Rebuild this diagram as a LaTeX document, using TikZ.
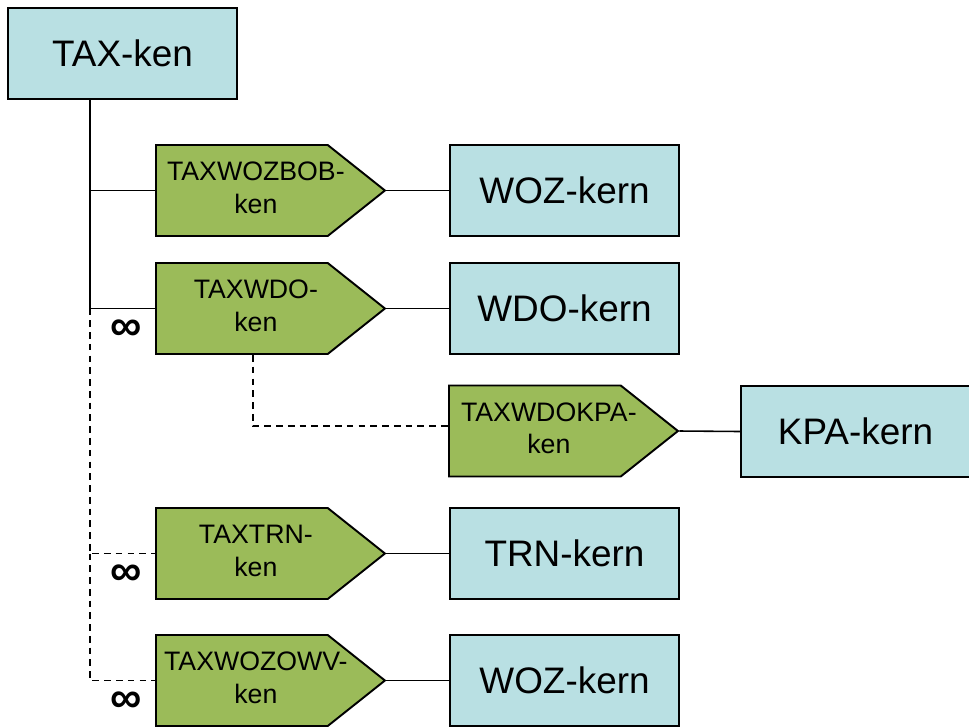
\documentclass[tikz,border=0pt]{standalone}
\usepackage{fontspec}
\setmainfont{Liberation Sans}
\usepackage{xcolor}
\usepackage{tikz}
\usetikzlibrary{shapes.symbols}
\definecolor{kernfill}{HTML}{B9E0E3}
\definecolor{kenfill}{HTML}{9BBB59}
\newcommand{\kenlabel}[2]{\makebox[3cm]{\hspace*{0.56cm}\raisebox{-0.15cm}{\begin{tabular}{@{}c@{}}#1\\#2\end{tabular}}}}
\tikzset{
  kern/.style={draw, fill=kernfill, line width=1.1pt, minimum width=4.58cm, minimum height=1.82cm, inner sep=0pt, font=\fontsize{21}{24}\selectfont},
  ken/.style={draw, fill=kenfill, line width=1.1pt, shape=signal, signal to=east, signal pointer angle=77, minimum width=4.58cm, minimum height=1.82cm, inner sep=0pt, font=\fontsize{15.2}{18.6}\selectfont},
  link/.style={line width=0.9pt},
  optional/.style={link, dash pattern=on 3.8pt off 2.9pt},
  many/.style={font=\bfseries\fontsize{25}{25}\selectfont, inner sep=0pt},
}

\begin{document}
\begin{tikzpicture}[x=0.02cm, y=-0.02cm]
  \useasboundingbox (0,0) rectangle (969,727);
  \coordinate (bus) at (90,0);
  \coordinate (drop) at (253,0);

  \node[kern] (tax) at (122.5,53.5) {TAX-ken};

  \node[ken, anchor=west] (wozbob) at (155,190.5) {\kenlabel{TAXWOZBOB-}{ken}};
  \node[ken, anchor=west] (wdo) at (155,308.5) {\kenlabel{TAXWDO-}{ken}};
  \node[ken, anchor=west] (wdokpa) at (448,431) {\kenlabel{TAXWDOKPA-}{ken}};
  \node[ken, anchor=west] (trn) at (155,553.5) {\kenlabel{TAXTRN-}{ken}};
  \node[ken, anchor=west] (wozowv) at (155,680.5) {\kenlabel{TAXWOZOWV-}{ken}};

  \node[kern] (woz) at (564.5,190.5) {WOZ-kern};
  \node[kern] (wdok) at (564.5,308.5) {WDO-kern};
  \node[kern] (kpa) at (855.5,431.5) {KPA-kern};
  \node[kern] (trnk) at (564.5,553.5) {TRN-kern};
  \node[kern] (wozk) at (564.5,680.5) {WOZ-kern};

  % trunk
  \draw[link] (tax.south -| bus) |- (wozbob.west);
  \draw[link] (tax.south -| bus) |- (wdo.west);
  \draw[optional] (wdo.west -| bus) |- (trn.west);
  \draw[optional] (trn.west -| bus) |- (wozowv.west);
  \draw[optional] (wdo.south -| drop) |- ([yshift=0.1cm]wdokpa.west);

  \draw[link] (wozbob.east) -- (woz.west);
  \draw[link] (wdo.east) -- (wdok.west);
  \draw[link] (wdokpa.east) -- (kpa.west);
  \draw[link] (trn.east) -- (trnk.west);
  \draw[link] (wozowv.east) -- (wozk.west);

  \node[many] (many1) at (126,330) {∞};
  \node[many] (many2) at (126,575) {∞};
  \node[many] (many3) at (126,702) {∞};
\end{tikzpicture}
\end{document}
